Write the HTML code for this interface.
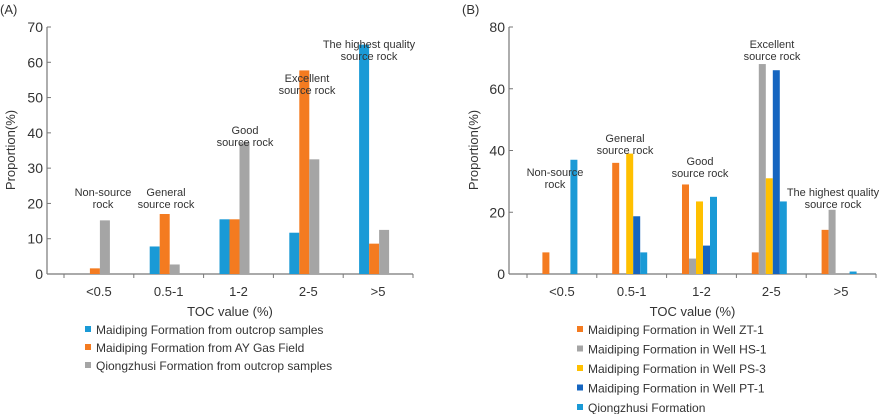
<!DOCTYPE html>
<html><head><meta charset="utf-8"><style>
body{margin:0;background:#fff;}
svg text{font-family:"Liberation Sans",Arial,sans-serif;fill:#333;}
</style></head><body>
<svg id="s" width="886" height="414" xmlns="http://www.w3.org/2000/svg"></svg>
<script>
const categories=["<0.5","0.5-1","1-2","2-5",">5"];
const aBlue=[0,7.8,15.5,11.7,65];
const aOrange=[1.6,17,15.5,57.7,8.6];
const aGray=[15.2,2.7,37.4,32.5,12.5];
const aTicks=[0,10,20,30,40,50,60,70];
const bZT1=[7,36,29,7,14.3];
const bHS1=[0,0,5,68,20.8];
const bPS3=[0,39,23.5,31,0];
const bPT1=[0,18.7,9.2,66,0];
const bQZ=[37,7,25,23.5,0.8];
const bTicks=[0,20,40,60,80];
const NS="http://www.w3.org/2000/svg";
const svg=document.getElementById('s');
function el(tag,attrs,parent){const e=document.createElementNS(NS,tag);for(const k in attrs)e.setAttribute(k,attrs[k]);(parent||svg).appendChild(e);return e;}
function txt(x,y,s,size,anchor,name,parent){const t=el('text',{x:x,y:y,'font-size':size,'text-anchor':anchor||'start'},parent);t.textContent=s;


return t;}
function chart(cfg){
 const g=el('g',{});
 
 
 const y0=274,yTop=27,ymax=cfg.ticks[cfg.ticks.length-1];
 const yS=v=>y0-(v/ymax)*(y0-yTop);
 const catW=(cfg.xEnd-cfg.firstTick)/categories.length;
 const xC=i=>cfg.firstTick+catW*(i+0.5);
 // axes
 const ya=el('line',{x1:cfg.ax,y1:yTop,x2:cfg.ax,y2:y0,stroke:'#777','stroke-width':1.2},g);
 
 const xa=el('line',{x1:cfg.ax,y1:y0,x2:cfg.xEnd,y2:y0,stroke:'#777','stroke-width':1.2},g);
 
 cfg.ticks.forEach(t=>{const y=yS(t);
  const l=el('line',{x1:cfg.ax,y1:y,x2:cfg.ax+4,y2:y,stroke:'#777'},g);
  
  txt(cfg.ax-4,y+5,String(t),14,'end','y-tick-label',g);});
 for(let i=0;i<=categories.length;i++){const x=cfg.firstTick+catW*i;
  const l=el('line',{x1:x,y1:y0,x2:x,y2:y0+4,stroke:'#777'},g);
  }
 categories.forEach((c,i)=>txt(xC(i),296,c,13,'middle','x-tick-label',g));
 const n=cfg.series.length,bw=cfg.bw;
 cfg.series.forEach((s,si)=>{s.vals.forEach((v,i)=>{if(v<=0)return;
  const x=xC(i)-n*bw/2-cfg.shift+si*bw;
  const r=el('rect',{x:x,y:yS(v),width:bw,height:y0-yS(v),fill:s.color},g);
  });});
 txt(cfg.panelX,14,cfg.panel,13,'start','panel-label',g);
 const yt=txt(0,0,'Proportion(%)',13,'middle','y-axis-title',g);
 yt.setAttribute('transform','translate('+cfg.ytX+',150) rotate(-90)');
 txt((cfg.ax+cfg.xEnd)/2,316,'TOC value (%)',13,'middle','x-axis-title',g);
 cfg.series.forEach((s,si)=>{const y=cfg.legY+si*cfg.legStep;
  const r=el('rect',{x:cfg.legX,y:y-8,width:6,height:6,fill:s.color},g);
  
  txt(cfg.legX+11,y,s.label,12,'start','legend-entry',g);});
 cfg.notes.forEach(nt=>{nt.lines.forEach((ln,j)=>txt(nt.x,nt.y+j*12,ln,11,'middle','category-annotation',g));});
}
chart({name:'chart-a',panel:'(A)',panelX:0,ax:47,firstTick:64,xEnd:413,bw:10,shift:4,ytX:15,
 ticks:aTicks,legX:85,legY:334,legStep:18,
 series:[{key:'outcrop-maidiping',vals:aBlue,color:'#1a9ad6',label:'Maidiping Formation from outcrop samples'},
  {key:'ay-gas-field',vals:aOrange,color:'#f47b20',label:'Maidiping Formation from AY Gas Field'},
  {key:'qiongzhusi',vals:aGray,color:'#a5a5a5',label:'Qiongzhusi Formation from outcrop samples'}],
 notes:[{x:103,y:196,lines:['Non-source','rock']},{x:166,y:196,lines:['General','source rock']},
  {x:245,y:134,lines:['Good','source rock']},{x:307,y:82,lines:['Excellent','source rock']},
  {x:369,y:48,lines:['The highest quality','source rock']}]});
chart({name:'chart-b',panel:'(B)',panelX:462,ax:509,firstTick:527,xEnd:876,bw:7,shift:2,ytX:478,
 ticks:bTicks,legX:577,legY:334,legStep:19.5,
 series:[{key:'zt1',vals:bZT1,color:'#f47b20',label:'Maidiping Formation in Well ZT-1'},
  {key:'hs1',vals:bHS1,color:'#a5a5a5',label:'Maidiping Formation in Well HS-1'},
  {key:'ps3',vals:bPS3,color:'#ffc000',label:'Maidiping Formation in Well PS-3'},
  {key:'pt1',vals:bPT1,color:'#1565c0',label:'Maidiping Formation in Well PT-1'},
  {key:'qzs',vals:bQZ,color:'#1a9ad6',label:'Qiongzhusi Formation'}],
 notes:[{x:555,y:176,lines:['Non-source','rock']},{x:625,y:142,lines:['General','source rock']},
  {x:700,y:165,lines:['Good','source rock']},{x:772,y:48,lines:['Excellent','source rock']},
  {x:833,y:196,lines:['The highest quality','source rock']}]});
</script>
</body></html>
